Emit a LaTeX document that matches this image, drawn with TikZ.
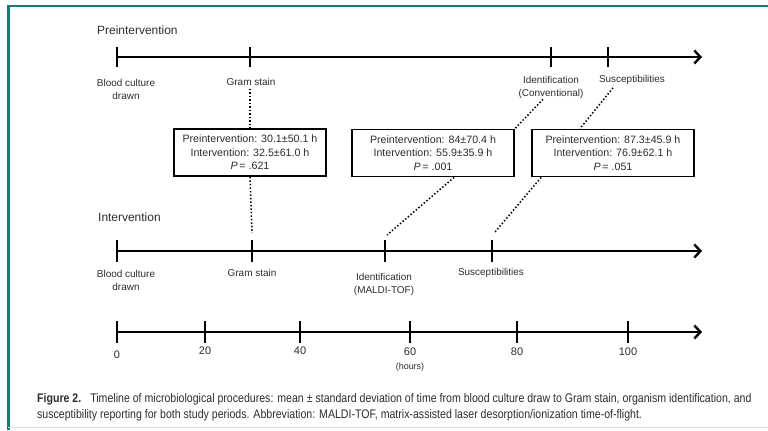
\documentclass[tikz,border=0pt]{standalone}
\usepackage{fontspec}
\setmainfont{Liberation Sans}
\newfontfamily\capfont[FakeStretch=0.85]{Liberation Sans}
\usetikzlibrary{arrows.meta}
\definecolor{frameteal}{RGB}{22,122,118}
\definecolor{txt}{RGB}{45,45,45}
\begin{document}
\begin{tikzpicture}[x=1bp,y=-1bp,
  axis/.style={line width=2.4bp,-{Straight Barb[length=6bp,width=13bp,line width=2.4bp]}},
  tickline/.style={line width=2.4bp},
  lbl/.style={font=\fontsize{10}{13}\selectfont, text=txt, align=center, inner sep=0pt},
  ttl/.style={font=\fontsize{12}{14}\selectfont, text=txt, anchor=west, inner sep=0pt},
  statbox/.style={draw, line width=1.8bp, minimum height=47bp, align=center,
    inner sep=0pt, font=\fontsize{10.7}{13.5}\selectfont, text=txt},
  dots/.style={line width=1.5bp, dotted},
  captext/.style={font=\capfont\fontsize{12.5}{14}\selectfont, text=txt, anchor=west, inner sep=0pt}
]
\useasboundingbox (0,0) rectangle (768,430);
\fill[white] (0,0) rectangle (768,430);
% frame
\draw[frameteal, line width=2.4bp] (8.3,430) -- (8.3,6) -- (768,6);
\draw[black!12, line width=1bp] (8.3,427) -- (768,427);

% ---------- Preintervention ----------
\node[ttl] (tpre) at (97,30) {Preintervention};
\coordinate (p0) at (117,57);
\coordinate (pend) at (702,57);
\draw[axis] (p0) -- (pend);
\foreach \n/\x in {pa/117,pb/250,pc/551,pd/608}{
  \coordinate (\n) at (\x,57);
  \draw[tickline] ([yshift=-10bp]\n) -- ([yshift=10bp]\n);
}
\node[lbl] (lpa) at (126,89) {Blood culture\\drawn};
\node[lbl] (lpb) at (251,82) {Gram stain};
\node[lbl] (lpc) at (551,87) {Identification\\(Conventional)};
\node[lbl] (lpd) at (632,80) {Susceptibilities};

% ---------- boxes ----------
\node[statbox, minimum width=152bp] (box1) at (250,152.5)
  {Preintervention: 30.1±50.1 h\\Intervention: 32.5±61.0 h\\\textit{P}\,= .621};
\node[statbox, minimum width=162bp] (box2) at (433,153)
  {Preintervention: 84±70.4 h\\Intervention: 55.9±35.9 h\\\textit{P}\,= .001};
\node[statbox, minimum width=162bp] (box3) at (613,153)
  {Preintervention: 87.3±45.9 h\\Intervention: 76.9±62.1 h\\\textit{P}\,= .051};

% ---------- Intervention ----------
\node[ttl] (tint) at (98,217) {Intervention};
\coordinate (i0) at (117,251);
\coordinate (iend) at (702,251);
\draw[axis] (i0) -- (iend);
\foreach \n/\x in {ia/117,ib/252,ic/385,id/492}{
  \coordinate (\n) at (\x,251);
  \draw[tickline] ([yshift=-11bp]\n) -- ([yshift=11bp]\n);
}
\node[lbl] (lia) at (126,280.5) {Blood culture\\drawn};
\node[lbl] (lib) at (252,273) {Gram stain};
\node[lbl] (lic) at (384,284.5) {Identification\\(MALDI-TOF)};
\node[lbl] (lid) at (491,273) {Susceptibilities};

% ---------- dotted connectors ----------
\draw[dots] ([yshift=-3bp]lpb.south -| box1.north) -- (box1.north);
\draw[dots] (box1.south) -- ([yshift=18bp]ib);
\draw[dots] ([xshift=-8bp,yshift=-1bp]lpc.south) -- (box2.north east);
\draw[dots] ([xshift=21bp]box2.south) -- ([xshift=2bp,yshift=16bp]ic);
\draw[dots] ([xshift=-19bp,yshift=-3bp]lpd.south) -- ([xshift=-33bp]box3.north);
\draw[dots] ([xshift=10bp]box3.south west) -- ([xshift=3bp,yshift=19bp]id);

% ---------- hours axis ----------
\coordinate (h0) at (117,332);
\coordinate (hend) at (702,332);
\draw[axis] (h0) -- (hend);
\foreach \n/\x/\v/\yy in {ha/117/0/355,hb/205/20/351,hc/300/40/351,hd/410/60/352,he/517/80/352,hf/628/100/352}{
  \coordinate (\n) at (\x,332);
  \draw[tickline] ([yshift=-11bp]\n) -- ([yshift=11bp]\n);
  \node[lbl, font=\fontsize{11}{13}\selectfont] (l\n) at (\x,\yy) {\v};
}
\node[lbl, font=\fontsize{9}{11}\selectfont] (hours) at (410,367) {(hours)};

% ---------- caption ----------
\node[captext] (cap1) at (37,399) {\textbf{Figure 2.}\hspace{9bp}Timeline of microbiological procedures: mean ± standard deviation of time from blood culture draw to Gram stain, organism identification, and};
\node[captext] (cap2) at (37,415) {susceptibility reporting for both study periods. Abbreviation: MALDI-TOF, matrix-assisted laser desorption/ionization time-of-flight.};
\end{tikzpicture}
\end{document}
